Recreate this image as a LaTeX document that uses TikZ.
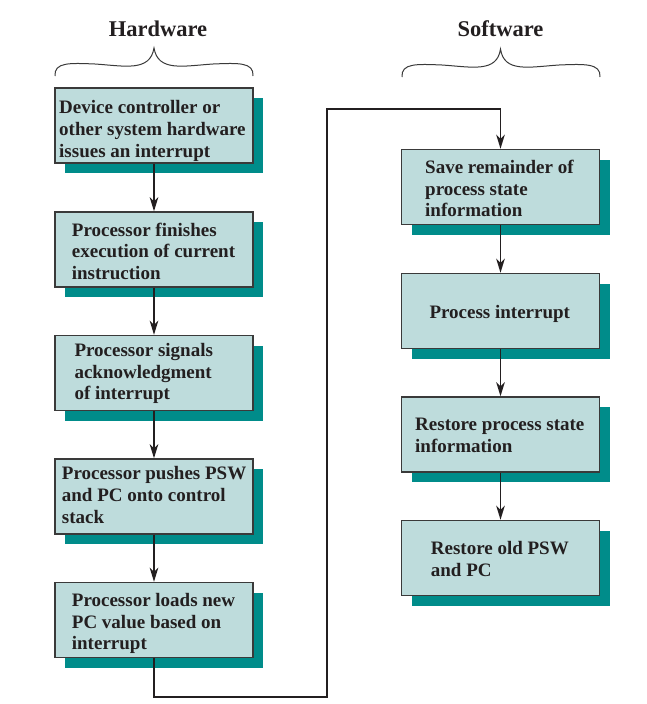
\documentclass[tikz,border=0pt]{standalone}
\usepackage{fontspec}
\setmainfont{Liberation Serif}
\usetikzlibrary{arrows.meta,shadows}
\definecolor{boxfill}{HTML}{BEDCDC}
\definecolor{shadowc}{HTML}{008C8A}
\definecolor{edgec}{HTML}{3A3A3A}
\definecolor{txtc}{HTML}{231F20}
\tikzset{
  box/.style={draw=edgec, line width=1.4pt, fill=boxfill, minimum width=198pt, minimum height=75pt, inner sep=0pt,
    general shadow={fill=shadowc, shadow xshift=10pt, shadow yshift=-10pt}},
  lbl/.style={anchor=north west, inner sep=0pt, align=left, text=txtc, font=\fontsize{19}{21.7}\selectfont\bfseries},
  ttl/.style={inner sep=0pt, text=txtc, font=\fontsize{22.5}{26}\selectfont\bfseries},
  flow/.style={draw=txtc, line width=1.8pt, -{Stealth[length=14pt,width=8.5pt,inset=4pt]}},
  brace/.style={draw=edgec, line width=1pt}
}
\begin{document}
\begin{tikzpicture}[x=1pt,y=-1pt]
\useasboundingbox (0,0) rectangle (647,704);
% titles
\node[ttl] (hw) at (158,29) {Hardware};
\node[ttl] (sw) at (500.5,29) {Software};
% braces
\draw[brace] (55,76) .. controls (54,62) and (70,63) .. (95,64) .. controls (125,66) and (150,72) .. (154,48)
  .. controls (158,72) and (183,66) .. (213,64) .. controls (238,63) and (254,62) .. (253,76);
\draw[brace] (402,77) .. controls (401,63) and (417,64) .. (442,65) .. controls (472,67) and (497,73) .. (500.5,49)
  .. controls (504,73) and (529,67) .. (559,65) .. controls (584,64) and (601,63) .. (600,77);
% hardware boxes
\node[box] (h1) at (154,125.5) {};
\node[box] (h2) at (154,249.5) {};
\node[box] (h3) at (154,373) {};
\node[box] (h4) at (154,496.5) {};
\node[box] (h5) at (154,620) {};
% software boxes
\node[box] (s1) at (500.5,187) {};
\node[box] (s2) at (500.5,311) {};
\node[box] (s3) at (500.5,434.5) {};
\node[box] (s4) at (500.5,558) {};
% texts
\node[lbl] (t1) at (59,100.5) {Device controller or\\other system hardware\\issues an interrupt};
\node[lbl] (t2) at (71.7,222.5) {Processor finishes\\execution of current\\instruction};
\node[lbl] (t3) at (74.3,343) {Processor signals\\acknowledgment\\of interrupt};
\node[lbl] (t4) at (61.7,466.5) {Processor pushes PSW\\and PC onto control\\stack};
\node[lbl] (t5) at (71.7,593) {Processor loads new\\PC value based on\\interrupt};
\node[lbl] (t6) at (425,160) {Save remainder of\\process state\\information};
\node[lbl] (t7) at (429.3,305) {Process interrupt};
\node[lbl] (t8) at (415,418) {Restore process state\\information};
\node[lbl] (t9) at (430.7,541.5) {Restore old PSW\\and PC};
% connectors
\draw[flow] (h1.south) -- (h2.north);
\draw[flow] (h2.south) -- (h3.north);
\draw[flow] (h3.south) -- (h4.north);
\draw[flow] (h4.south) -- (h5.north);
\draw[flow] (s1.south) -- (s2.north);
\draw[flow] (s2.south) -- (s3.north);
\draw[flow] (s3.south) -- (s4.north);
\coordinate (c1) at (154,697);
\coordinate (c2) at (327,697);
\coordinate (c3) at (327,109);
\coordinate (c4) at (500.5,109);
\draw[flow] (h5.south) -- (c1) -- (c2) -- (c3) -- (c4) -- (s1.north);
\end{tikzpicture}
\end{document}
